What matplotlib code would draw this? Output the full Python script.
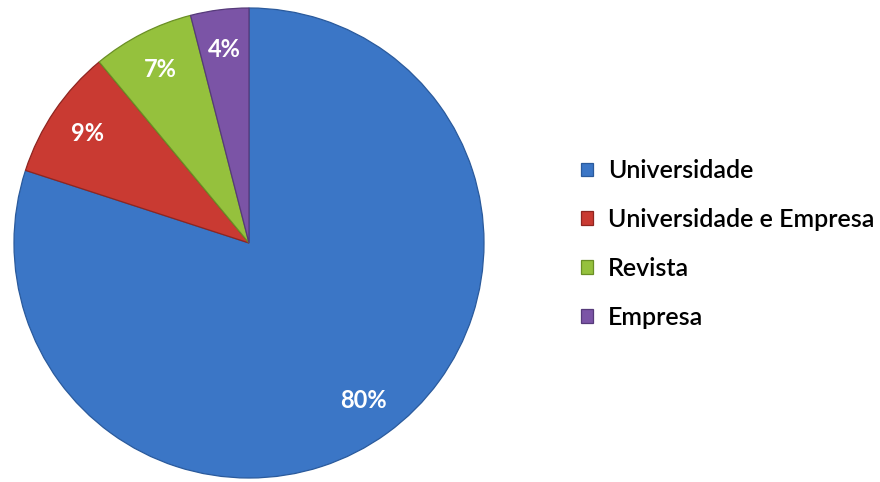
import matplotlib.pyplot as plt

# Origem das publicações
categorias = ['Universidade', 'Universidade e Empresa', 'Revista', 'Empresa']
percentuais = [80, 9, 7, 4]
cores = ['#3b76c6', '#c93a32', '#95c13d', '#7b54a6']
bordas = ['#2a5a9c', '#8f2520', '#6a8f25', '#563a7a']

fig = plt.figure(figsize=(8.8, 4.82), dpi=100)

# eixo quadrado para a pizza, centro em (249, 243) px e raio 235 px
ax = fig.add_axes([14 / 880, 4 / 482, 470 / 880, 470 / 482])

fatias, textos, pcts = ax.pie(
    percentuais,
    colors=cores,
    startangle=90,
    counterclock=False,
    autopct='%d%%',
    pctdistance=0.83,
    radius=1.0,
    wedgeprops=dict(linewidth=0.9),
    textprops=dict(color='white', fontsize=17, fontweight='bold', family='Lato'),
)
for f, b in zip(fatias, bordas):
    f.set_edgecolor(b)

ax.set_xlim(-1, 1)
ax.set_ylim(-1, 1)
ax.set_aspect('equal')
ax.axis('off')

fig.legend(
    fatias, categorias,
    loc='center left',
    bbox_to_anchor=(581 / 880, 1 - 244 / 482),
    frameon=False,
    prop=dict(family='Lato', size=18, weight='semibold'),
    handlelength=0.48,
    handleheight=0.48,
    handletextpad=0.6,
    labelspacing=1.03,
    borderpad=0,
    borderaxespad=0,
)

fig.savefig('out.png', dpi=100)
